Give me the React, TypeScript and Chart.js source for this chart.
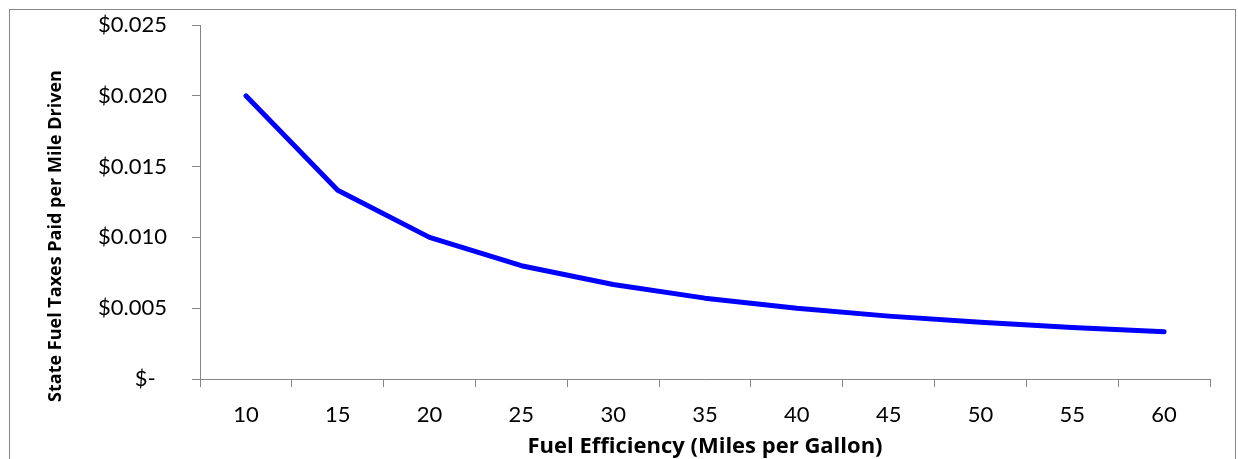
import React, { useEffect, useRef } from "react";
import { Chart, registerables } from "chart.js";

Chart.register(...registerables);

const mpgCategories = ["10", "15", "20", "25", "30", "35", "40", "45", "50", "55", "60"];
const taxPerMile = [0.02, 0.01333, 0.01, 0.008, 0.00667, 0.00571, 0.005, 0.00444, 0.004, 0.00364, 0.00333];
const yTickLabels: Record<string, string> = {
  "0": "$-  ",
  "0.005": "$0.005",
  "0.01": "$0.010",
  "0.015": "$0.015",
  "0.02": "$0.020",
  "0.025": "$0.025",
};
const xTitle = "Fuel Efficiency (Miles per Gallon)";
const yTitle = "State Fuel Taxes Paid per Mile Driven";

const AXIS = "#868686";
const FONT = "Lato, 'Open Sans', sans-serif";
const TITLE_FONT = "'Open Sans', sans-serif";

const yTitlePlugin = {
  id: "yTitlePlugin",
  afterDraw(chart: any) {
    const ctx = chart.ctx;
    ctx.save();
    ctx.translate(46, 226);
    ctx.rotate(-Math.PI / 2);
    ctx.font = `bold 18px ${TITLE_FONT}`;
    ctx.fillStyle = "#000";
    ctx.textAlign = "center";
    ctx.textBaseline = "middle";
    ctx.fillText(yTitle, 0, 0);
    ctx.restore();
  },
};

export default function App() {
  const ref = useRef<HTMLCanvasElement | null>(null);
  useEffect(() => {
    if (!ref.current) return;
    const chart = new Chart(ref.current, {
      type: "line",
      data: {
        labels: mpgCategories,
        datasets: [
          {
            data: taxPerMile,
            borderColor: "#0000FF",
            backgroundColor: "#0000FF",
            borderWidth: 5,
            pointRadius: 0,
            pointHoverRadius: 0,
            borderCapStyle: "round",
            borderJoinStyle: "round",
            tension: 0,
            fill: false,
          },
        ],
      },
      plugins: [yTitlePlugin],
      options: {
        responsive: false,
        animation: false,
        layout: { padding: { left: 0, top: 15, right: 25, bottom: 0 } },
        plugins: { legend: { display: false }, tooltip: { enabled: false } },
        scales: {
          x: {
            type: "category",
            offset: true,
            grid: {
              offset: true,
              drawOnChartArea: false,
              drawTicks: true,
              tickLength: 8,
              color: AXIS,
              lineWidth: 1,
            },
            border: { color: AXIS, width: 1 },
            ticks: {
              color: "#000",
              padding: 15,
              font: { family: FONT, size: 22 },
              maxRotation: 0,
              autoSkip: false,
            },
            title: {
              display: true,
              text: xTitle,
              color: "#000",
              font: { family: TITLE_FONT, size: 22, weight: "bold" },
              padding: { top: 0, bottom: 10 },
            },
            afterFit: (s: any) => {
              s.height = 91;
              s.paddingLeft = 0;
              s.paddingRight = 0;
            },
          },
          y: {
            min: 0,
            max: 0.025,
            grid: {
              drawOnChartArea: false,
              drawTicks: true,
              tickLength: 8,
              color: AXIS,
              lineWidth: 1,
            },
            border: { color: AXIS, width: 1 },
            ticks: {
              stepSize: 0.005,
              color: "#000",
              padding: 25,
              font: { family: FONT, size: 22 },
              callback: (v: any) => {
                const key = String(Math.round(Number(v) * 1000) / 1000);
                return yTickLabels[key] ?? String(v);
              },
            },
            title: { display: false },
            afterFit: (s: any) => {
              s.width = 190;
              s.paddingTop = 0;
              s.paddingBottom = 0;
            },
          },
        },
      },
    });
    return () => chart.destroy();
  }, []);
  return (
    <div
      style={{
        position: "fixed",
        left: 9,
        top: 9,
        width: 1225,
        height: 460,
        border: `1px solid ${AXIS}`,
        background: "#fff",
      }}
    >
      <canvas ref={ref} width={1225} height={460} style={{ display: "block" }} />
    </div>
  );
}
